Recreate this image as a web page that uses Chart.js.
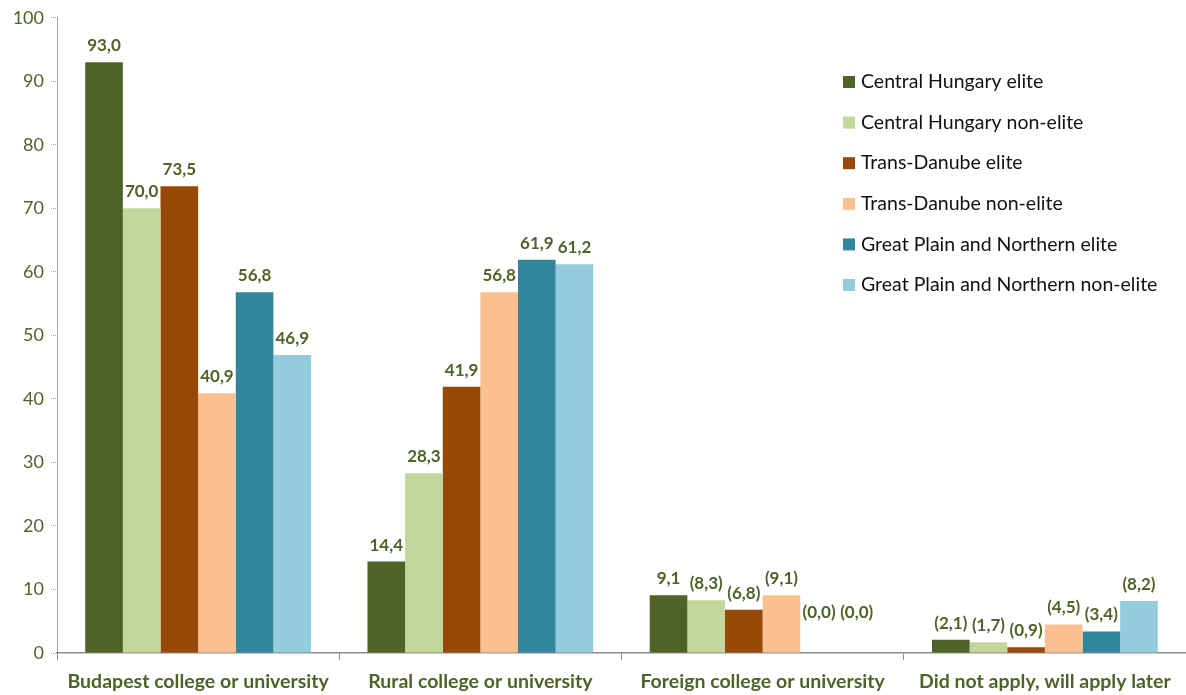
<!DOCTYPE html>
<html>
<head>
<meta charset="utf-8">
<script src="https://cdn.jsdelivr.net/npm/chart.js@4.4.1/dist/chart.umd.min.js"></script>
<style>
  html, body { margin: 0; padding: 0; background: #fff; }
  #wrap { width: 1186px; height: 695px; }
</style>
</head>
<body>
<div id="wrap"><canvas id="myChart"></canvas></div>
<script>
// categories and series
const categories = [
  "Budapest college or university",
  "Rural college or university",
  "Foreign college or university",
  "Did not apply, will apply later",
];
const seriesNames = [
  "Central Hungary elite",
  "Central Hungary non-elite",
  "Trans-Danube elite",
  "Trans-Danube non-elite",
  "Great Plain and Northern elite",
  "Great Plain and Northern non-elite",
];
const centralElite = [93.0, 14.4, 9.1, 2.1];
const centralNonElite = [70.0, 28.3, 8.3, 1.7];
const transElite = [73.5, 41.9, 6.8, 0.9];
const transNonElite = [40.9, 56.8, 9.1, 4.5];
const plainElite = [56.8, 61.9, 0.0, 3.4];
const plainNonElite = [46.9, 61.2, 0.0, 8.2];
// which labels are shown in brackets
const bracketed = [
  [false, false, false, true],
  [false, false, true, true],
  [false, false, true, true],
  [false, false, true, true],
  [false, false, true, true],
  [false, false, true, true],
];
const yTicks = [0, 10, 20, 30, 40, 50, 60, 70, 80, 90, 100];

const colors = ["#4F6228", "#C3D69B", "#984807", "#FAC090", "#31859C", "#93CDDD"];
const labelGreen = "#4F6228";
const FONT = "Lato, 'Open Sans', sans-serif";

// value labels above the bars
const valueLabels = {
  id: "valueLabels",
  afterDatasetsDraw(chart) {
    const { ctx } = chart;
    ctx.save();
    ctx.font = `bold 17px ${FONT}`;
    ctx.fillStyle = labelGreen;
    ctx.textAlign = "center";
    ctx.textBaseline = "bottom";
    chart.data.datasets.forEach((ds, i) => {
      chart.getDatasetMeta(i).data.forEach((bar, j) => {
        const v = ds.data[j];
        let text = v.toFixed(1).replace(".", ",");
        if (bracketed[i][j]) text = `(${text})`;
        const lift = v === 0 ? 32 : 8;
        ctx.fillText(text, bar.x, bar.y - lift);
      });
    });
    ctx.restore();
  },
};

// legend drawn inside the plot, top right
const insideLegend = {
  id: "insideLegend",
  afterDraw(chart) {
    const { ctx } = chart;
    ctx.save();
    ctx.font = `19.5px ${FONT}`;
    ctx.textBaseline = "middle";
    ctx.textAlign = "left";
    chart.data.datasets.forEach((ds, i) => {
      const y = 82 + i * 40.6;
      ctx.fillStyle = ds.backgroundColor;
      ctx.fillRect(843, y - 6, 12, 12);
      ctx.fillStyle = "#111";
      ctx.fillText(ds.label, 861, y);
    });
    ctx.restore();
  },
};

const allSeries = [centralElite, centralNonElite, transElite, transNonElite, plainElite, plainNonElite];

new Chart(document.getElementById("myChart"), {
  type: "bar",
  data: {
    labels: categories,
    datasets: allSeries.map((data, i) => ({
      label: seriesNames[i],
      data,
      backgroundColor: colors[i],
      borderWidth: 0,
      categoryPercentage: 0.8,
      barPercentage: 1.0,
    })),
  },
  options: {
    responsive: true,
    maintainAspectRatio: false,
    animation: false,
    layout: { padding: { top: 10, right: 0, bottom: 0, left: 0 } },
    plugins: {
      legend: { display: false },
      tooltip: { enabled: false },
    },
    scales: {
      y: {
        min: 0,
        max: 100,
        afterBuildTicks: (scale) => {
          scale.ticks = yTicks.map((v) => ({ value: v }));
        },
        afterFit: (scale) => {
          scale.width = 57;
        },
        border: { color: "#A6A6A6", dash: [1, 1], width: 1 },
        grid: {
          drawOnChartArea: false,
          tickLength: 6,
          color: "#A6A6A6",
          tickBorderDash: [1, 1],
        },
        ticks: {
          color: labelGreen,
          font: { family: FONT, size: 18 },
          padding: 7,
        },
      },
      x: {
        afterFit: (scale) => {
          scale.height = 42;
        },
        border: { color: "#8C8C8C", width: 1.5 },
        grid: {
          offset: true,
          drawOnChartArea: false,
          tickLength: 7,
          color: "#8C8C8C",
        },
        ticks: {
          color: labelGreen,
          font: { family: FONT, size: 19.5, weight: "bold" },
          maxRotation: 0,
          padding: 10,
        },
      },
    },
  },
  plugins: [valueLabels, insideLegend],
});
</script>
</body>
</html>
